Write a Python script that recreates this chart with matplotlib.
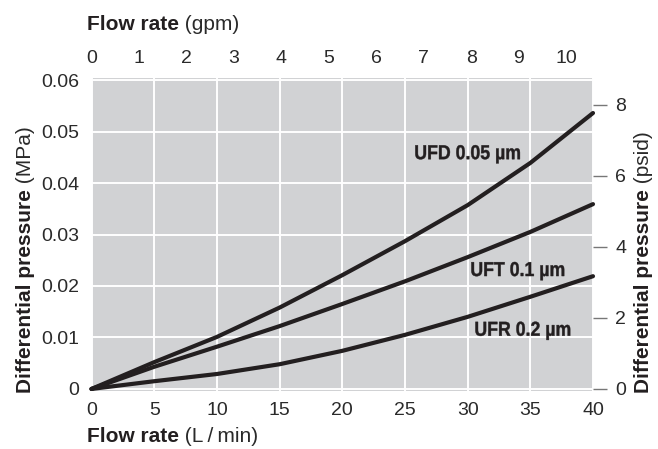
import matplotlib.pyplot as plt
import matplotlib.transforms as mtransforms
import numpy as np
from matplotlib.font_manager import FontProperties
from matplotlib.patches import PathPatch
from matplotlib.textpath import TextPath

# flow rate in L/min, pressure in MPa
flow = [0, 5, 10, 15, 20, 25, 30, 35, 40]
ufd = [0, 0.0052, 0.0101, 0.0158, 0.0221, 0.0287, 0.0357, 0.0439, 0.0536]
uft = [0, 0.0043, 0.0082, 0.0122, 0.0165, 0.0209, 0.0256, 0.0305, 0.0359]
ufr = [0, 0.0015, 0.0029, 0.0048, 0.0074, 0.0105, 0.0140, 0.0179, 0.0219]

curve_labels = ['UFD 0.05 µm', 'UFT 0.1 µm', 'UFR 0.2 µm']
label_pos = [(30.0, 0.0460), (34.0, 0.0233), (34.4, 0.0117)]

LPM_PER_GPM = 3.78541
PSI_PER_MPA = 145.038

GRAY = '#d1d2d4'
INK = '#231f20'
TICK_COLOR = '#2a2a2a'
TICK_FONT = 14
LABEL_FONT = 15

plt.rcParams['font.family'] = ['Liberation Sans', 'DejaVu Sans']

fig = plt.figure(figsize=(6.58, 4.49), dpi=100)
ax = fig.add_axes([91.5/658, 58/449, (593-91.5)/658, (391-78)/449])
ax.set_facecolor(GRAY)
for s in ax.spines.values():
    s.set_visible(False)

ax.set_xlim(0, 40)
ax.set_ylim(-0.0004, 0.0604)
ax.set_xticks(np.arange(0, 41, 5))
ax.set_yticks(np.arange(0, 0.061, 0.01))
ax.set_yticklabels(['0', '0.01', '0.02', '0.03', '0.04', '0.05', '0.06'])
ax.grid(True, color='white', linewidth=1.4)
ax.set_axisbelow(True)
ax.tick_params(length=0, labelsize=TICK_FONT, colors=TICK_COLOR)
ax.tick_params(axis='y', pad=9)
ax.tick_params(axis='x', pad=8)

for y in (ufd, uft, ufr):
    ax.plot(flow, y, color=INK, linewidth=3, solid_capstyle='round', clip_on=False)

# condensed bold curve labels: squeeze a bold text path horizontally
bold_prop = FontProperties(family='Liberation Sans', weight='bold')
px = fig.dpi / 72
for txt, (x, y) in zip(curve_labels, label_pos):
    tp = TextPath((0, 0), txt, size=14.5, prop=bold_prop)
    bb = tp.get_extents()
    cap = TextPath((0, 0), 'U', size=14.5, prop=bold_prop).get_extents()
    tr = (mtransforms.Affine2D()
          .translate(-(bb.x0 + bb.width / 2), -cap.height / 2)
          .scale(0.88 * px, px)
          + mtransforms.ScaledTranslation(x, y, ax.transData))
    ax.add_patch(PathPatch(tp, transform=tr, facecolor=INK, edgecolor=INK,
                           linewidth=0.3, clip_on=False))

top = ax.secondary_xaxis('top', functions=(lambda v: v / LPM_PER_GPM,
                                           lambda v: v * LPM_PER_GPM))
top.set_xticks(range(0, 11))
top.tick_params(length=0, labelsize=TICK_FONT, colors=TICK_COLOR, pad=8)
for s in top.spines.values():
    s.set_visible(False)

right = ax.secondary_yaxis('right', functions=(lambda v: v * PSI_PER_MPA,
                                               lambda v: v / PSI_PER_MPA))
right.set_yticks([0, 2, 4, 6, 8])
right.tick_params(length=10, width=1, color='#777777', labelsize=TICK_FONT,
                  labelcolor=TICK_COLOR, pad=6)
for s in right.spines.values():
    s.set_visible(False)


def two_part(x, y, bold, normal, rotation=0):
    t = fig.text(x, y, bold, fontsize=LABEL_FONT, fontweight='bold', color=INK,
                 rotation=rotation, ha='left', va='center' if rotation == 0 else 'bottom')
    if rotation == 0:
        ax.annotate(normal, xy=(1, 0), xycoords=t, ha='left', va='bottom',
                    fontsize=LABEL_FONT, color=TICK_COLOR, annotation_clip=False)
    else:
        ax.annotate(normal, xy=(0, 1), xycoords=t, ha='left', va='bottom',
                    rotation=90, fontsize=LABEL_FONT, color=TICK_COLOR,
                    annotation_clip=False)


two_part(87/658, 1 - 25/449, 'Flow rate', ' (gpm)')
two_part(87/658, 1 - 437/449, 'Flow rate', ' (L\u2009/\u2009min)')
two_part(16/658, 1 - 393/449, 'Differential pressure', ' (MPa)', rotation=90)
two_part(634/658, 1 - 393/449, 'Differential pressure', ' (psid)', rotation=90)

fig.savefig('out.png', dpi=100)
